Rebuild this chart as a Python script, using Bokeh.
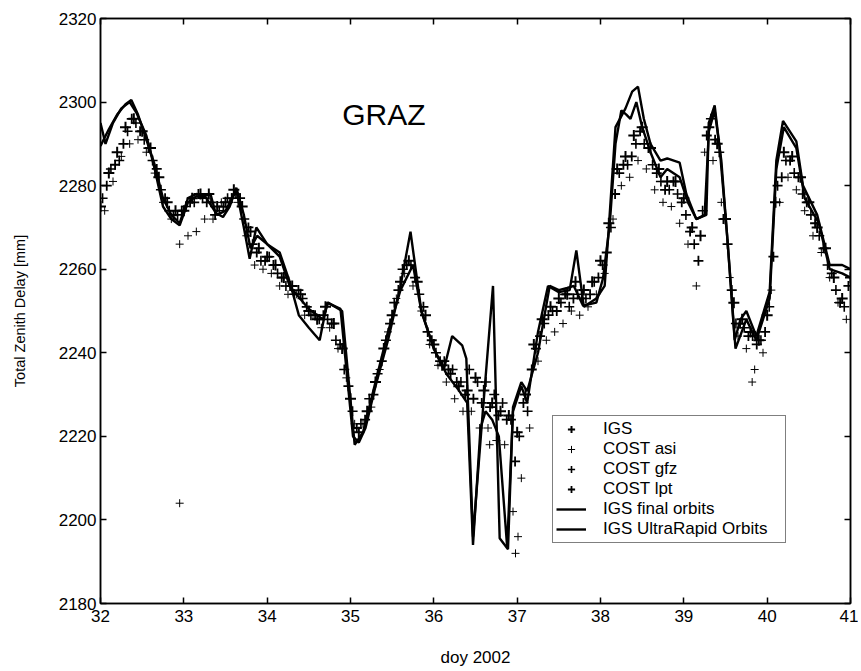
import numpy as np
from bokeh.plotting import figure
from bokeh.models import Range1d, FixedTicker, LinearAxis, Legend, LegendItem
from bokeh.core.properties import value
from bokeh.embed import file_html
from bokeh.resources import INLINE

FONT = "Liberation Sans"

# ---------------- data ----------------
x_ticks = [32, 33, 34, 35, 36, 37, 38, 39, 40, 41]
y_ticks = [2180, 2200, 2220, 2240, 2260, 2280, 2300, 2320]

# IGS solutions (every 0.1 day from doy 32.0)
igs_t = list(np.round(32.0 + 0.1 * np.arange(91), 3))
igs_ztd = [2275, 2283, 2288, 2294, 2296, 2293, 2289, 2282, 2276, 2274,
           2274, 2277, 2278, 2278, 2275, 2276, 2279, 2275, 2269, 2265,
           2263, 2261, 2258, 2256, 2254, 2250, 2248, 2251, 2247, 2241,
           2229, 2221, 2226, 2233, 2241, 2249, 2257, 2262, 2257, 2249,
           2242, 2237, 2235, 2232, 2231, 2234, 2231, 2228, 2226, 2225,
           2221, 2230, 2242, 2248, 2251, 2253, 2254, 2257, 2255, 2257,
           2262, 2271, 2284, 2287, 2292, 2294, 2289, 2284, 2281, 2281,
           2277, 2270, 2268, 2294, 2290, 2272, 2252, 2248, 2245, 2243,
           2249, 2276, 2288, 2287, 2282, 2276, 2270, 2265, 2258, 2253,
           2258]

# COST asi
asi_t = list(np.round(32.05 + 0.1 * np.arange(90), 3)) + [32.95, 36.98, 37.01, 39.82, 36.67]
asi_ztd = [2274, 2281, 2287, 2290, 2291, 2288, 2283, 2276, 2272, 2266,
           2268, 2269, 2272, 2272, 2276, 2276, 2276, 2268, 2261, 2260,
           2259, 2256, 2254, 2254, 2249, 2249, 2246, 2246, 2241, 2234,
           2223, 2223, 2227, 2236, 2245, 2253, 2259, 2256, 2250, 2242,
           2237, 2233, 2229, 2226, 2226, 2222, 2222, 2219, 2218, 2202,
           2210, 2222, 2238, 2243, 2245, 2247, 2250, 2249, 2251, 2254,
           2259, 2272, 2280, 2282, 2286, 2284, 2279, 2276, 2275, 2271,
           2266, 2256, 2288, 2286, 2276, 2258, 2244, 2241, 2236, 2240,
           2255, 2276, 2282, 2279, 2274, 2268, 2264, 2258, 2252, 2248,
           2204, 2192, 2196, 2233, 2218]

# COST gfz
gfz_t = list(np.round(32.025 + 0.1 * np.arange(90), 3))
gfz_ztd = [2277, 2284, 2286, 2293, 2295, 2291, 2286, 2279, 2274, 2273,
           2275, 2276, 2277, 2276, 2274, 2277, 2278, 2272, 2266, 2262,
           2263, 2259, 2256, 2254, 2253, 2249, 2248, 2248, 2243, 2236,
           2226, 2223, 2229, 2235, 2243, 2252, 2260, 2261, 2254, 2245,
           2240, 2238, 2236, 2233, 2236, 2233, 2233, 2230, 2228, 2224,
           2220, 2226, 2241, 2247, 2250, 2252, 2251, 2254, 2253, 2257,
           2261, 2270, 2283, 2285, 2290, 2290, 2285, 2281, 2279, 2278,
           2273, 2266, 2274, 2296, 2288, 2266, 2247, 2246, 2244, 2243,
           2251, 2280, 2286, 2283, 2278, 2273, 2268, 2261, 2255, 2251]

# COST lpt
lpt_t = list(np.round(32.075 + 0.1 * np.arange(90), 3))
lpt_ztd = [2280, 2285, 2290, 2296, 2293, 2289, 2284, 2277, 2273, 2274,
           2276, 2278, 2276, 2273, 2275, 2277, 2277, 2270, 2264, 2262,
           2261, 2258, 2256, 2255, 2251, 2249, 2249, 2247, 2242, 2232,
           2222, 2224, 2230, 2238, 2247, 2255, 2261, 2258, 2251, 2243,
           2238, 2236, 2233, 2230, 2229, 2228, 2227, 2225, 2224, 2214,
           2228, 2236, 2244, 2249, 2250, 2254, 2253, 2253, 2254, 2258,
           2264, 2278, 2285, 2287, 2293, 2289, 2283, 2279, 2281, 2276,
           2269, 2262, 2292, 2291, 2272, 2255, 2247, 2244, 2242, 2245,
           2263, 2282, 2286, 2282, 2276, 2271, 2265, 2259, 2252, 2256]

# IGS final orbits
fin_t = [32.00, 32.10, 32.20, 32.30, 32.37, 32.45, 32.55, 32.65, 32.75, 32.85,
         32.95, 33.05, 33.15, 33.25, 33.32, 33.38, 33.47, 33.55, 33.63, 33.72,
         33.80, 33.88, 34.00, 34.15, 34.27, 34.38, 34.50, 34.63, 34.72, 34.88,
         35.03, 35.10, 35.18, 35.30, 35.45, 35.60, 35.72, 35.85, 36.00, 36.15,
         36.30, 36.40, 36.47, 36.56, 36.62, 36.70, 36.78, 36.88, 36.95, 37.05,
         37.12, 37.25, 37.37, 37.50, 37.63, 37.71, 37.80, 37.95, 38.05, 38.10,
         38.18, 38.30, 38.38, 38.45, 38.52, 38.60, 38.72, 38.80, 38.95, 39.03,
         39.15, 39.27, 39.30, 39.37, 39.43, 39.52, 39.61, 39.68, 39.75, 39.87,
         40.03, 40.11, 40.19, 40.35, 40.43, 40.60, 40.75, 40.90, 41.00]
fin_ztd = [2289.5, 2293.5, 2297, 2299.5, 2300.5, 2297, 2291, 2285, 2277, 2273,
           2271, 2277, 2278, 2277.5, 2278, 2273.5, 2272.5, 2275, 2279.5, 2273,
           2265, 2268, 2266, 2264, 2257, 2249, 2246, 2243, 2252, 2250.5,
           2220, 2218.5, 2222, 2232, 2243, 2256, 2269, 2250, 2241, 2235,
           2231, 2228, 2194, 2222, 2226, 2224, 2220, 2193.5, 2226, 2232,
           2228, 2245, 2256, 2254.5, 2255, 2264.5, 2251, 2253, 2256, 2270,
           2294, 2298.5, 2302.5, 2303.7, 2296, 2290, 2286, 2286.5, 2285.5, 2278,
           2272, 2273, 2295, 2299.2, 2289, 2268, 2243, 2248, 2250, 2244,
           2254.6, 2286, 2295.5, 2290.6, 2280, 2273, 2261, 2261, 2260]

# IGS UltraRapid orbits
ur_t = [32.00, 32.06, 32.15, 32.25, 32.35, 32.43, 32.55, 32.65, 32.75, 32.85,
        32.95, 33.05, 33.15, 33.27, 33.40, 33.50, 33.63, 33.72, 33.79, 33.87,
        34.00, 34.15, 34.27, 34.35, 34.50, 34.67, 34.73, 34.90, 35.05, 35.15,
        35.30, 35.45, 35.60, 35.75, 35.85, 36.00, 36.12, 36.22, 36.34, 36.39,
        36.47, 36.58, 36.71, 36.79, 36.89, 36.95, 37.05, 37.12, 37.25, 37.39,
        37.50, 37.60, 37.68, 37.79, 37.95, 38.03, 38.11, 38.18, 38.25, 38.31,
        38.36, 38.43, 38.50, 38.60, 38.72, 38.80, 38.95, 39.05, 39.15, 39.25,
        39.30, 39.37, 39.45, 39.55, 39.62, 39.75, 39.87, 40.03, 40.11, 40.20,
        40.35, 40.45, 40.62, 40.75, 40.90, 41.00]
ur_ztd = [2295, 2290, 2295, 2298.5, 2300, 2297.5, 2292, 2284, 2275, 2272,
          2270.5, 2276, 2277.5, 2277, 2273, 2274, 2279, 2270, 2262.5, 2270,
          2266, 2263, 2256, 2254, 2250.5, 2248, 2252, 2250, 2218, 2221,
          2233, 2245, 2255, 2261, 2250, 2241, 2236, 2244, 2241.8, 2238.6,
          2196, 2224, 2256, 2195.6, 2193, 2227, 2233, 2230.8, 2240, 2256,
          2255, 2255.5, 2256, 2251.3, 2252, 2257.8, 2270.5, 2290, 2298, 2297,
          2296, 2300, 2294, 2288, 2282, 2284, 2282, 2276, 2272, 2273,
          2293, 2298, 2286, 2260, 2241, 2248, 2243, 2253, 2284, 2294,
          2289, 2277, 2271, 2260, 2259, 2258]

station = "GRAZ"

# ---------------- figure ----------------
p = figure(frame_width=750, frame_height=585,
           min_border_left=100, min_border_right=8,
           min_border_top=18, min_border_bottom=64,
           x_range=Range1d(32, 41), y_range=Range1d(2180, 2320),
           output_backend="svg", toolbar_location=None,
           background_fill_color="white", border_fill_color="white")
p.grid.visible = False
p.outline_line_color = "black"
p.outline_line_width = 1.5

xa = p.xaxis[0]
ya = p.yaxis[0]
xa.ticker = FixedTicker(ticks=x_ticks)
ya.ticker = FixedTicker(ticks=y_ticks)
for ax in (xa, ya):
    ax.axis_line_color = "black"
    ax.axis_line_width = 1.5
    ax.major_tick_in = 6
    ax.major_tick_out = 0
    ax.major_tick_line_width = 1.5
    ax.minor_tick_line_color = None
    ax.major_label_text_font = FONT
    ax.major_label_text_font_size = "17px"
    ax.major_label_text_color = "black"
    ax.axis_label_text_font = FONT
    ax.axis_label_text_font_style = "normal"
    ax.axis_label_text_color = "black"
xa.major_label_standoff = 6
ya.major_label_standoff = 4
xa.axis_label = "doy 2002"
xa.axis_label_text_font_size = "17px"
xa.axis_label_standoff = 23
ya.axis_label = "Total Zenith Delay [mm]"
ya.axis_label_text_font_size = "14.5px"
ya.axis_label_standoff = 28

# tick marks on top and right (box), without labels
top = LinearAxis(ticker=FixedTicker(ticks=x_ticks))
right = LinearAxis(ticker=FixedTicker(ticks=y_ticks))
for ax in (top, right):
    ax.axis_line_color = "black"
    ax.axis_line_width = 1.5
    ax.major_tick_in = 6
    ax.major_tick_out = 0
    ax.major_tick_line_width = 1.5
    ax.minor_tick_line_color = None
    ax.major_label_text_font_size = "1px"
    ax.major_label_text_color = None
    ax.major_label_text_alpha = 0
    ax.major_label_standoff = 0
p.add_layout(top, "above")
p.add_layout(right, "right")

# markers
r_igs = p.scatter(igs_t, igs_ztd, marker="cross", size=11, line_width=2, line_color="black")
r_asi = p.scatter(asi_t, asi_ztd, marker="cross", size=8, line_width=1, line_color="black")
r_gfz = p.scatter(gfz_t, gfz_ztd, marker="cross", size=10, line_width=1.6, line_color="black")
r_lpt = p.scatter(lpt_t, lpt_ztd, marker="cross", size=10, line_width=1.8, line_color="black")
# lines
r_fin = p.line(fin_t, fin_ztd, line_width=2.4, line_color="black")
r_ur = p.line(ur_t, ur_ztd, line_width=2.4, line_color="black")

p.text(x=[34.9], y=[2297], text=[station], text_font=value(FONT),
       text_font_size="30px", text_baseline="middle", text_align="left",
       text_color="black")

legend = Legend(items=[
    LegendItem(label="IGS", renderers=[r_igs]),
    LegendItem(label="COST asi", renderers=[r_asi]),
    LegendItem(label="COST gfz", renderers=[r_gfz]),
    LegendItem(label="COST lpt", renderers=[r_lpt]),
    LegendItem(label="IGS final orbits", renderers=[r_fin]),
    LegendItem(label="IGS UltraRapid Orbits", renderers=[r_ur]),
], location=(452, 60))
legend.margin = 0
legend.padding = 3
legend.spacing = 0
legend.glyph_width = 30
legend.glyph_height = 18
legend.label_height = 18
legend.label_standoff = 17
legend.label_width = 179
legend.label_text_font = FONT
legend.label_text_font_size = "17px"
legend.label_text_color = "black"
legend.border_line_color = "black"
legend.border_line_width = 1
legend.background_fill_color = "white"
legend.background_fill_alpha = 1
p.add_layout(legend, "center")

open("out.html", "w").write(file_html(p, INLINE))
